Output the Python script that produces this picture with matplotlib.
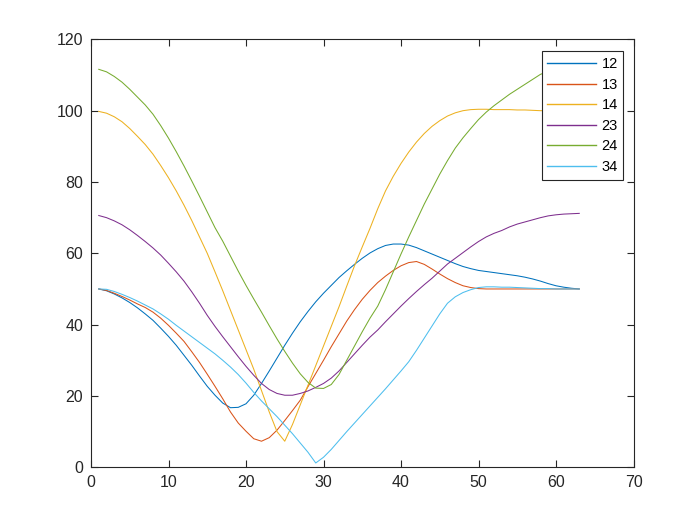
import matplotlib
matplotlib.use('Agg')
import matplotlib.pyplot as plt
import numpy as np

plt.rcParams['font.family'] = ['Liberation Sans', 'DejaVu Sans']

x = np.arange(1, 64)

s12 = [50, 49.5, 48.6, 47.5, 46.2, 44.7, 43, 41.2, 39, 36.7,
       34.2, 31.4, 28.6, 25.6, 22.7, 20.2, 18, 16.7, 16.8, 17.8,
       20.2, 23.5, 27, 30.6, 34.2, 37.6, 40.8, 43.7, 46.4, 48.8,
       51, 53.2, 55.1, 56.9, 58.6, 60.1, 61.3, 62.2, 62.6, 62.6,
       62.3, 61.6, 60.7, 59.8, 58.9, 58, 57.1, 56.3, 55.7, 55.2,
       54.9, 54.6, 54.3, 54, 53.7, 53.3, 52.8, 52.2, 51.5, 50.9,
       50.5, 50.2, 50]
s13 = [50, 49.6, 48.8, 47.9, 46.9, 45.8, 44.8, 43.5, 41.8, 39.8,
       37.6, 35.3, 32.4, 29.4, 26.1, 22.7, 19.2, 15.5, 12.4, 10.1,
       8, 7.3, 8.3, 10.4, 13.1, 15.9, 18.8, 22.6, 26.3, 30,
       33.8, 37.4, 41, 44.2, 47.1, 49.6, 51.8, 53.6, 55.2, 56.5,
       57.4, 57.7, 56.9, 55.6, 54.2, 52.9, 51.8, 50.9, 50.4, 50.1,
       50, 50, 50, 50, 50, 50, 50, 50, 50, 50,
       50, 50, 50]
s14 = [99.8, 99.3, 98.3, 96.9, 95, 92.8, 90.5, 87.8, 84.6, 81.2,
       77.5, 73.5, 69.2, 64.6, 60, 54.8, 49.5, 44, 38.5, 33,
       27.5, 21.5, 15.5, 10, 7.3, 12, 17.5, 23, 28.5, 34,
       39.5, 45, 50.8, 56.5, 61.8, 67, 72.5, 77.5, 81.6, 85.2,
       88.4, 91.2, 93.6, 95.6, 97.2, 98.5, 99.4, 100, 100.3, 100.4,
       100.4, 100.3, 100.3, 100.3, 100.2, 100.2, 100.1, 100, 100, 100,
       100, 100, 100]
s23 = [70.6, 70, 69.1, 68, 66.6, 65, 63.3, 61.5, 59.5, 57.2,
       54.8, 52.2, 49.2, 46, 42.6, 39.5, 36.6, 33.8, 31, 28.3,
       25.8, 23.5, 21.8, 20.7, 20.2, 20.2, 20.7, 21.4, 22.4, 23.5,
       25, 27, 29.4, 31.8, 34.2, 36.5, 38.5, 40.8, 43, 45.2,
       47.3, 49.3, 51.2, 53, 55, 57, 58.6, 60.2, 61.8, 63.3,
       64.6, 65.6, 66.4, 67.4, 68.2, 68.8, 69.4, 70, 70.5, 70.8,
       71, 71.1, 71.2]
s24 = [111.6, 110.9, 109.6, 108, 106, 103.8, 101.6, 99, 95.8, 92.3,
       88.5, 84.5, 80.3, 76, 71.6, 67.2, 63.4, 59.2, 55, 51,
       47.2, 43.5, 39.7, 36, 32.5, 29.2, 26.2, 23.8, 22.2, 22.1,
       23.2, 26, 30, 34, 38, 41.8, 45.2, 49.8, 54.8, 59.8,
       64.6, 69.2, 73.8, 78, 82.2, 86, 89.5, 92.4, 95, 97.5,
       99.6, 101.4, 103, 104.6, 106, 107.4, 108.8, 110.2, 111, 111.5,
       111.7, 111.7, 111.6]
s34 = [50, 49.9, 49.3, 48.5, 47.6, 46.6, 45.5, 44.4, 43, 41.5,
       39.8, 38.2, 36.6, 35, 33.4, 31.8, 30, 28.1, 26, 23.6,
       21, 18.6, 16.4, 14.2, 11.8, 9.4, 6.8, 4.2, 1.2, 2.8,
       5, 7.5, 10, 12.4, 14.8, 17.2, 19.6, 22, 24.5, 27,
       29.6, 32.8, 36.2, 39.6, 43, 46, 47.8, 49, 49.8, 50.4,
       50.6, 50.6, 50.5, 50.5, 50.4, 50.3, 50.2, 50.1, 50.1, 50,
       50, 50, 50]

labels = ['12', '13', '14', '23', '24', '34']
series = [s12, s13, s14, s23, s24, s34]
colors = ['#0072BD', '#D95319', '#EDB120', '#7E2F8E', '#77AC30', '#4DBEEE']

fig = plt.figure(figsize=(7, 5.25), dpi=100)
ax = fig.add_axes([0.13, 0.11, 0.775, 0.815])

for s, lab, c in zip(series, labels, colors):
    ax.plot(x, s, color=c, linewidth=0.75, label=lab)

ax.set_xlim(0, 70)
ax.set_ylim(0, 120)
ax.set_xticks(np.arange(0, 71, 10))
ax.set_yticks(np.arange(0, 121, 20))

axcol = '#262626'
for sp in ax.spines.values():
    sp.set_color(axcol)
    sp.set_linewidth(0.8)
ax.tick_params(direction='in', length=5, width=0.8, top=True, right=True,
               colors=axcol, labelsize=11.5, pad=5.5)

leg = ax.legend(loc='upper right', bbox_to_anchor=(0.9815, 0.972),
                borderaxespad=0, fancybox=False, framealpha=1,
                edgecolor=axcol, fontsize=10.5, handlelength=3.3,
                labelspacing=0.45, handletextpad=0.4, borderpad=0.4)
leg.get_frame().set_linewidth(0.8)
for h in leg.get_lines():
    h.set_linewidth(1.0)

plt.savefig('out.png', dpi=100)
plt.close()
